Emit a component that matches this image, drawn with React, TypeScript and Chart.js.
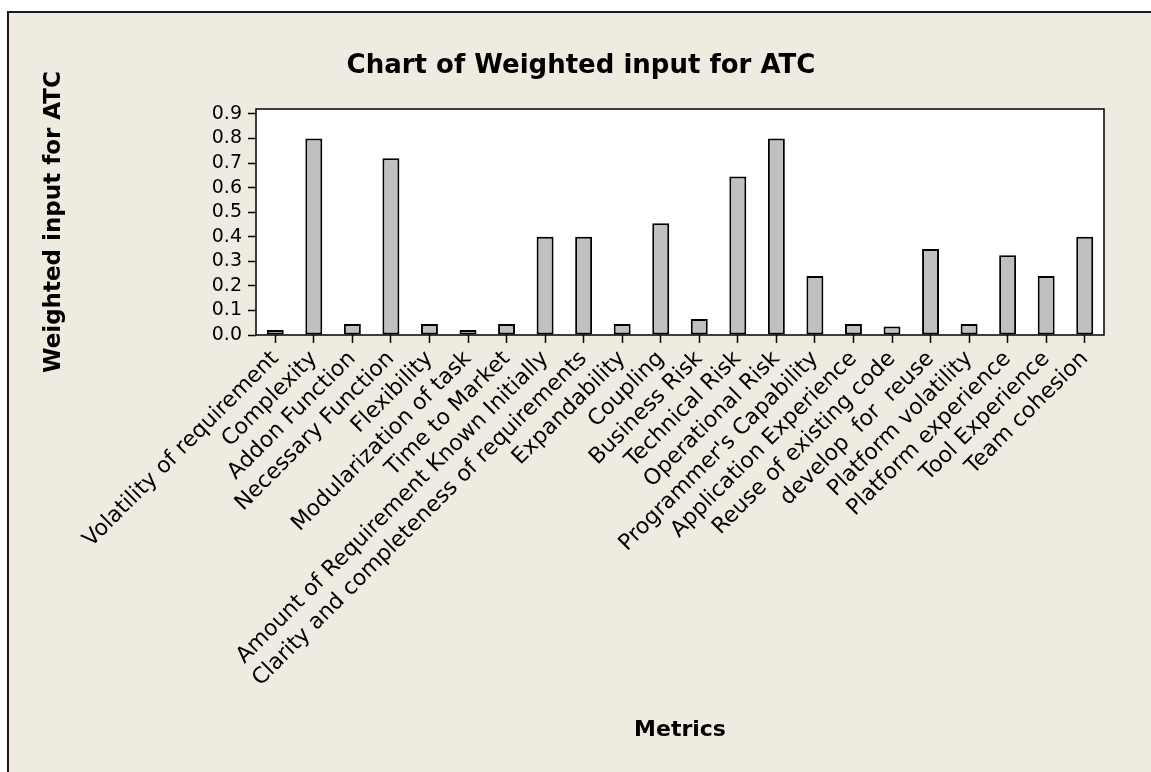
import React, { useEffect, useRef } from "react";
import { Chart, registerables } from "chart.js";

Chart.register(...registerables);

const chartTitle = "Chart of Weighted input for ATC";
const xTitle = "Metrics";
const yTitle = "Weighted input for ATC";

const categories = [
  "Volatility of requirement",
  "Complexity",
  "Addon Function",
  "Necessary Function",
  "Flexibility",
  "Modularization of task",
  "Time to Market",
  "Amount of Requirement Known Initially",
  "Clarity and completeness of requirements",
  "Expandability",
  "Coupling",
  "Business Risk",
  "Technical Risk",
  "Operational Risk",
  "Programmer's Capability",
  "Application Experience",
  "Reuse of existing code",
  "develop  for  reuse",
  "Platform volatility",
  "Platform experience",
  "Tool Experience",
  "Team cohesion",
];

const values = [
  0.02, 0.8, 0.045, 0.72, 0.045, 0.02, 0.045, 0.4, 0.4, 0.045, 0.455,
  0.065, 0.645, 0.8, 0.24, 0.045, 0.035, 0.35, 0.045, 0.325, 0.24, 0.4,
];

const yTicks = [0, 0.1, 0.2, 0.3, 0.4, 0.5, 0.6, 0.7, 0.8, 0.9];

const BG = "#EFEBE1";
const FONT = "'DejaVu Sans', Verdana, sans-serif";

export default function App() {
  const ref = useRef<HTMLCanvasElement | null>(null);

  useEffect(() => {
    if (!ref.current) return;

    const framePlugin = {
      id: "frame",
      beforeDraw(chart: any) {
        const { ctx, width, height, chartArea } = chart;
        ctx.save();
        ctx.fillStyle = "#ffffff";
        ctx.fillRect(0, 0, width, height);
        ctx.fillStyle = BG;
        ctx.fillRect(7, 11, width, height);
        ctx.strokeStyle = "#1a1a1a";
        ctx.lineWidth = 2;
        ctx.beginPath();
        ctx.moveTo(8, height + 5);
        ctx.lineTo(8, 12);
        ctx.lineTo(width + 5, 12);
        ctx.stroke();
        ctx.fillStyle = "#ffffff";
        ctx.fillRect(chartArea.left, chartArea.top, chartArea.width, chartArea.height);
        ctx.restore();
      },
      afterDraw(chart: any) {
        const { ctx, chartArea } = chart;
        ctx.save();
        ctx.strokeStyle = "#000";
        ctx.lineWidth = 1.5;
        ctx.strokeRect(chartArea.left, chartArea.top, chartArea.width, chartArea.height);
        ctx.fillStyle = "#000";
        ctx.font = `bold 26px ${FONT}`;
        ctx.textAlign = "center";
        ctx.textBaseline = "middle";
        ctx.fillText(chartTitle, 581, 66);
        ctx.restore();
      },
    };

    const chart = new Chart(ref.current, {
      type: "bar",
      data: {
        labels: categories,
        datasets: [
          {
            data: values,
            backgroundColor: "#C0C0C0",
            borderColor: "#000",
            borderWidth: 2,
            borderSkipped: false,
            barPercentage: 0.44,
            categoryPercentage: 1,
          },
        ],
      },
      options: {
        responsive: false,
        animation: false,
        events: [],
        layout: { padding: { top: 109, right: 47, bottom: 0, left: 0 } },
        plugins: {
          legend: { display: false },
          tooltip: { enabled: false },
          title: { display: false },
        },
        scales: {
          x: {
            type: "category",
            offset: true,
            grid: {
              offset: false,
              drawOnChartArea: false,
              drawTicks: true,
              tickLength: 8,
              tickColor: "#000",
              tickWidth: 1.5,
            },
            border: { display: false },
            ticks: {
              autoSkip: false,
              minRotation: 45,
              maxRotation: 45,
              color: "#000",
              padding: 3,
              font: { family: FONT, size: 22 },
            },
            title: {
              display: true,
              text: xTitle,
              color: "#000",
              font: { family: FONT, size: 22, weight: "bold" },
              padding: { top: 0, bottom: 29 },
            },
            afterFit(scale: any) {
              scale.height = 437;
            },
          },
          y: {
            min: 0,
            max: 0.92,
            grid: {
              drawOnChartArea: false,
              drawTicks: true,
              tickLength: 8,
              tickColor: "#000",
              tickWidth: 1.5,
            },
            border: { display: false },
            afterBuildTicks(scale: any) {
              scale.ticks = yTicks.map((v) => ({ value: v }));
            },
            ticks: {
              autoSkip: false,
              color: "#000",
              padding: 6,
              font: { family: FONT, size: 19 },
              callback: (v: any) => Number(v).toFixed(1),
            },
            title: {
              display: true,
              text: yTitle,
              color: "#000",
              font: { family: FONT, size: 23, weight: "bold" },
              padding: { top: 40, bottom: 0 },
            },
            afterFit(scale: any) {
              scale.width = 256;
            },
          },
        },
      },
      plugins: [framePlugin],
    });

    return () => chart.destroy();
  }, []);

  return (
    <canvas
      ref={ref}
      width={1151}
      height={772}
      style={{ display: "block", position: "absolute", left: 0, top: 0 }}
    />
  );
}
